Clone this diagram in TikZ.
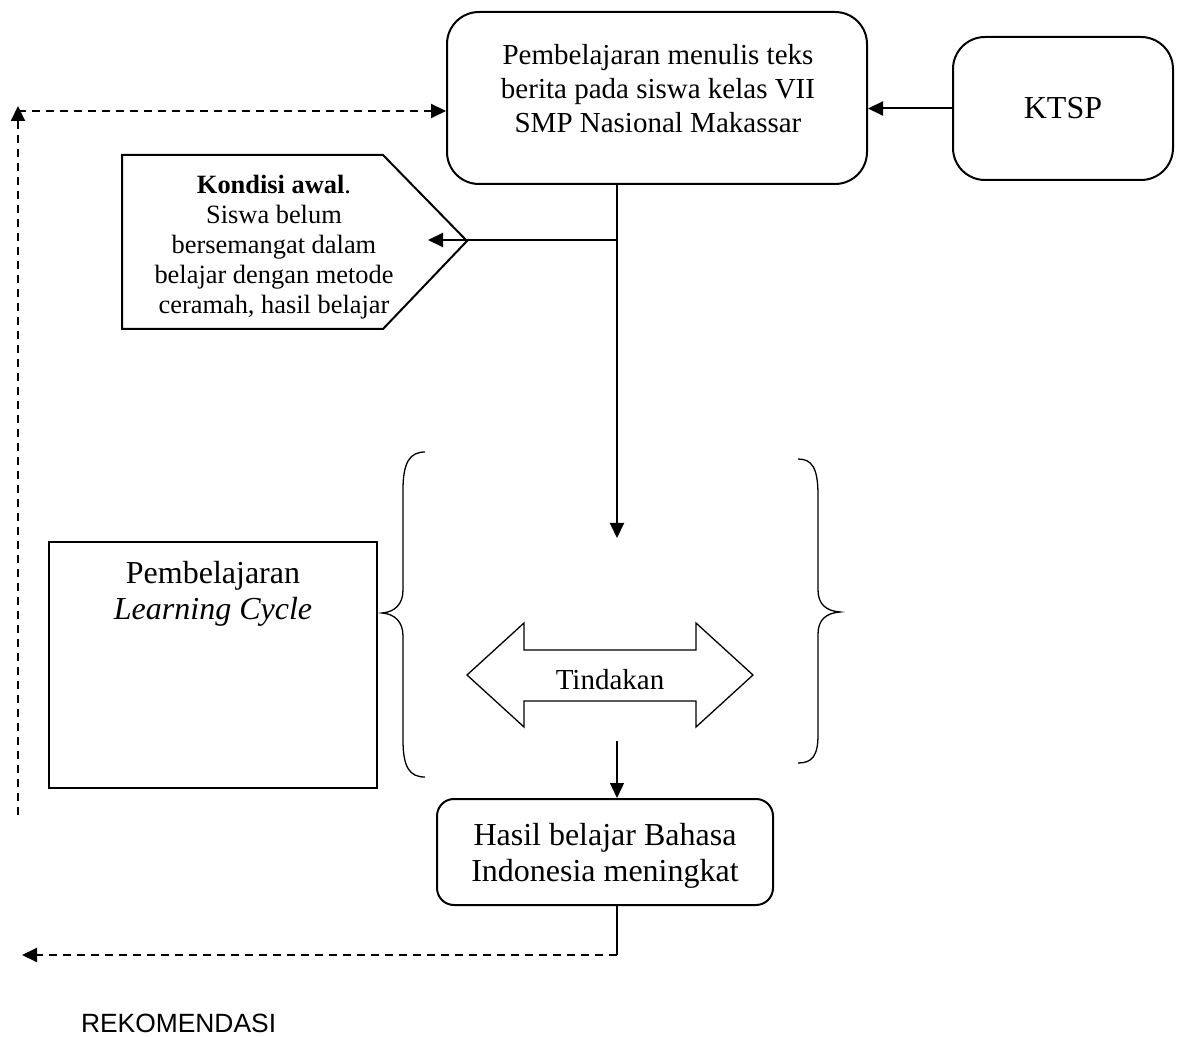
\documentclass[tikz,border=0pt]{standalone}
\usepackage{fontspec}
\setmainfont{Liberation Serif}
\setsansfont{Liberation Sans}
\usetikzlibrary{arrows.meta}

\newcommand{\hurufkecil}{\fontsize{13.2}{15}\selectfont}
\newcommand{\hurufsedang}{\fontsize{14.5}{17}\selectfont}
\newcommand{\hurufbesar}{\fontsize{16}{18}\selectfont}

\begin{document}
\begin{tikzpicture}[x=0.5pt,y=-0.5pt,line width=1pt,
  >={Triangle[length=7.5pt,width=7pt]},
  kotak/.style={draw,rounded corners=16pt,inner sep=0pt},
  teks/.style={align=center,inner sep=0pt},
  tipis/.style={line width=0.65pt},
  putus/.style={dash pattern=on 4pt off 3pt}]
\useasboundingbox (0,0) rectangle (1179,1037);

\node[kotak, minimum width=210pt, minimum height=86pt] (utama) at (657,98) {};
\node[teks, font=\hurufsedang] (utamateks) at (658,89)
  {Pembelajaran menulis teks\\berita pada siswa kelas VII\\SMP Nasional Makassar};
\node[kotak, minimum width=110pt, minimum height=71.5pt, font=\hurufbesar] (ktsp) at (1063,108.5) {KTSP};

% kondisi awal
\draw (122,155) -- (383,155) -- (467,241) -- (383,329) -- (122,329) -- cycle;
\node[teks, font=\hurufkecil] (kondisi) at (274,247)
  {\textbf{Kondisi awal}.\\Siswa belum\\bersemangat dalam\\belajar dengan metode\\ceramah, hasil belajar};

% learning cycle
\node[draw, minimum width=164pt, minimum height=123pt] (lc) at (213,665) {};
\node[teks, font=\hurufbesar] (lcteks) at (213,594) {Pembelajaran\\\textit{Learning Cycle}};

% tindakan
\draw[tipis] (467,675) -- (524,623) -- (524,650) -- (696,650) -- (696,623) -- (753,675)
  -- (696,727) -- (696,701) -- (524,701) -- (524,727) -- cycle;
\node[font=\hurufsedang] (tindakan) at (610,680) {Tindakan};

% kurung
\draw[tipis] (425,452) .. controls (410,452) and (403,462) .. (403,490) -- (403,590)
  .. controls (403,604) and (395,612) .. (382,613)
  .. controls (395,614) and (403,622) .. (403,636) -- (403,740)
  .. controls (403,768) and (410,777) .. (425,777);
\draw[tipis] (798,459) .. controls (812,459) and (818,468) .. (818,495) -- (818,590)
  .. controls (818,604) and (826,611) .. (840,612)
  .. controls (826,613) and (818,620) .. (818,634) -- (818,735)
  .. controls (818,756) and (812,763) .. (798,763);

\node[kotak, rounded corners=8.5pt, minimum width=168pt, minimum height=53pt] (hasil) at (605,852) {};
\node[teks, font=\hurufbesar] (hasilteks) at (605,856) {Hasil belajar Bahasa\\Indonesia meningkat};

\node[anchor=west, inner sep=0pt, font=\sffamily\fontsize{13.2}{15}\selectfont] (rekom) at (80,1023) {REKOMENDASI};

\coordinate (cabang) at (617,240);
\coordinate (masuk) at (617,538);
\coordinate (kondisikiri) at (428,240);
\coordinate (keluar) at (617,741);
\coordinate (balik) at (617,955);
\coordinate (rekomujung) at (22,955);
\coordinate (kiribawah) at (18,815);
\coordinate (kiriatas) at (18,106);
\coordinate (kirisudut) at (18,111);

\draw (utama.south -| cabang) -- (cabang);
\draw[->] (cabang) -- (masuk);
\draw[->] (cabang) -- (kondisikiri);
\draw[->] (ktsp.west) -- (ktsp.west -| utama.east);
\draw[->, line width=0.7pt] (keluar) -- (hasil.north -| keluar);
\draw[line width=1.3pt] (hasil.south -| balik) -- (balik);
\draw[->, putus] (balik) -- (rekomujung);
\draw[->, putus] (kiribawah) -- (kiriatas);
\draw[->, putus] (kirisudut) -- (utama.west |- kirisudut);
\end{tikzpicture}
\end{document}
